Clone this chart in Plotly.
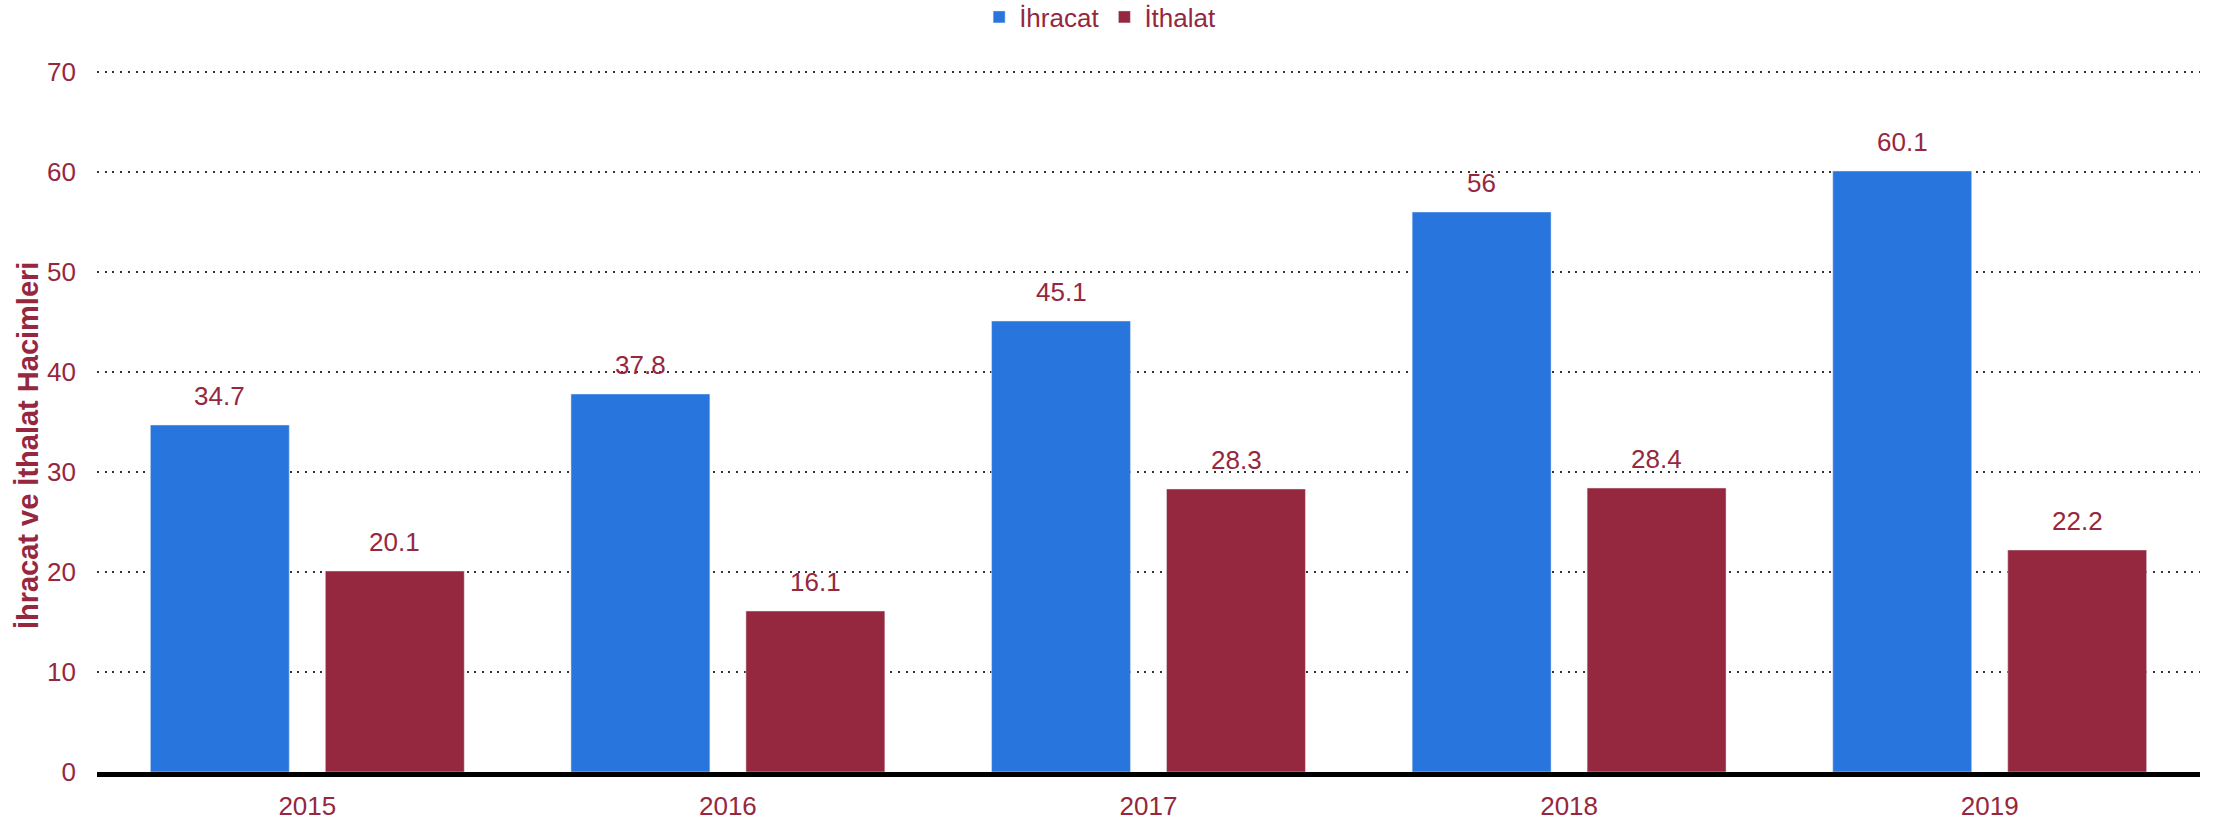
import plotly.graph_objects as go

years = ["2015", "2016", "2017", "2018", "2019"]
ihracat = [34.7, 37.8, 45.1, 56, 60.1]
ithalat = [20.1, 16.1, 28.3, 28.4, 22.2]

blue = "#2876dd"
red = "#95273e"
font = "Liberation Sans, Arial, sans-serif"

fig = go.Figure()
fig.add_trace(go.Bar(x=years, y=ihracat, name="İhracat", marker_color=blue))
fig.add_trace(go.Bar(x=years, y=ithalat, name="İthalat", marker_color=red))

# value labels above the bars (x given as category index)
for vals, shift in [(ihracat, -87.5), (ithalat, 87.5)]:
    for i, v in enumerate(vals):
        fig.add_annotation(
            x=i, y=v, xshift=shift, yshift=12, text=f"{v:g}",
            showarrow=False, yanchor="bottom",
            font=dict(size=26, color=red, family=font),
        )

# y axis title as rotated annotation
fig.add_annotation(
    text="<b>İhracat ve İthalat Hacimleri</b>", textangle=-90,
    xref="paper", yref="paper", x=0, y=0.465, xshift=-69, xanchor="center",
    showarrow=False, font=dict(size=29, color=red, family=font),
)

fig.update_layout(
    width=2233, height=823,
    margin=dict(l=97, r=33, t=69, b=51, autoexpand=False),
    paper_bgcolor="white", plot_bgcolor="white",
    font=dict(family=font, size=26, color=red),
    bargap=0.168, bargroupgap=0.206,
    legend=dict(orientation="h", x=0.477, xanchor="center", y=1.074,
                yanchor="middle", font=dict(size=26, color=red), itemwidth=30),
    xaxis=dict(type="category", range=[-0.5, 4.5], showline=True, linecolor="black",
               linewidth=5, ticks="", tickfont=dict(size=26, color=red), showgrid=False,
               ticklabelstandoff=7),
    yaxis=dict(range=[0, 70.3], tickvals=[0, 10, 20, 30, 40, 50, 60, 70], showgrid=True,
               gridcolor="#333333", gridwidth=1.5, griddash="2px,5.7px", zeroline=False,
               tickfont=dict(size=26, color=red), ticklabelstandoff=20),
)

fig.write_html("out.html", config={"displayModeBar": False},
               post_script="document.body.style.margin='0px';")
